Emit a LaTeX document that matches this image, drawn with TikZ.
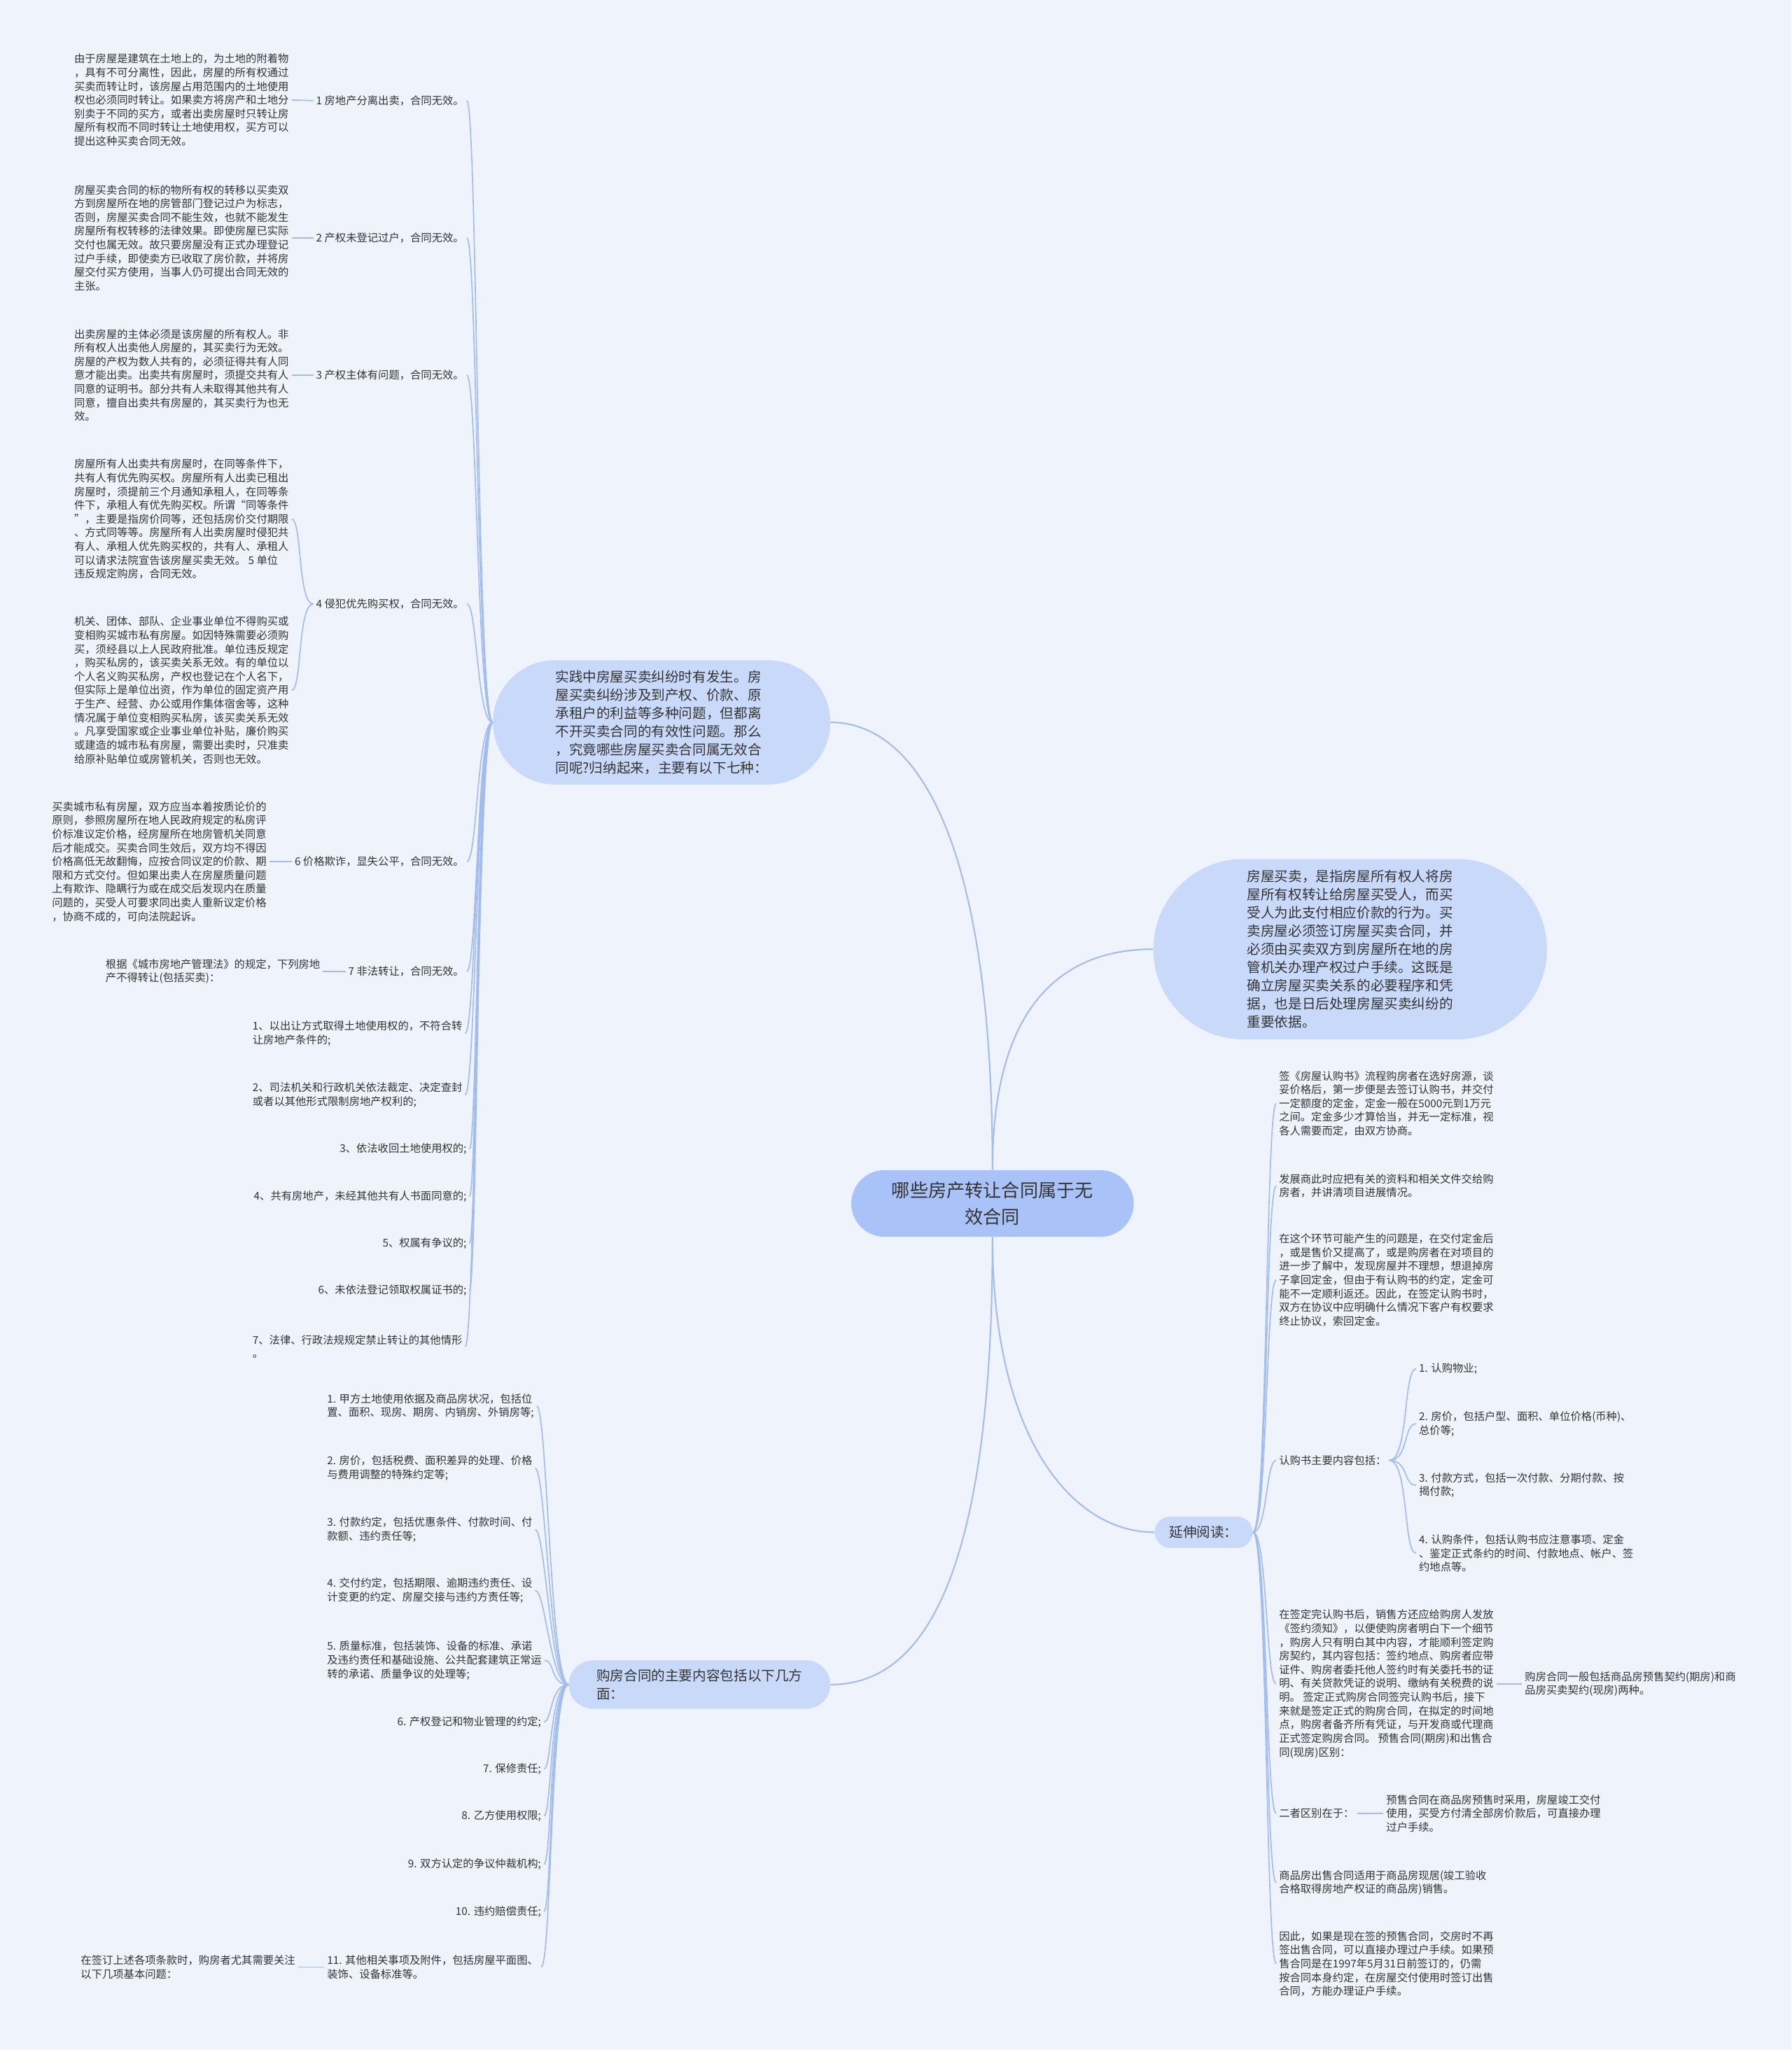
\documentclass[tikz,border=0pt]{standalone}
\usepackage{fontspec}
\setmainfont{Noto Sans CJK SC}
\usepackage{tikz}
\usetikzlibrary{shapes.misc}

\definecolor{bgblue}{HTML}{EEF3FC}
\definecolor{rootblue}{HTML}{A9C3F8}
\definecolor{branchblue}{HTML}{C9D9FA}
\definecolor{linkblue}{HTML}{A3BCEE}
\definecolor{inkgray}{HTML}{333333}

\begin{document}
\begin{tikzpicture}[x=1pt, y=-1pt,
    root/.style={rounded rectangle, fill=rootblue, text=inkgray, align=center,
        font=\fontsize{14pt}{20pt}\selectfont, minimum width=216pt, minimum height=51pt, inner sep=0pt},
    branch/.style={rounded rectangle, fill=branchblue, text=inkgray, align=left,
        font=\fontsize{10.5pt}{13.9pt}\selectfont, inner sep=0pt},
    leaf/.style={text=inkgray, align=left, font=\fontsize{8.2pt}{10.5pt}\selectfont, inner sep=2pt},
    trunk/.style={draw=linkblue, line width=1.1pt},
    link/.style={draw=linkblue, line width=0.9pt}]

    % Background and frame
    \fill[bgblue] (0,0) rectangle (1370,1568);
    \useasboundingbox (0,0) rectangle (1370,1568);

    % Root and main branches
    \node[root] (root) at (759,920.5) {哪些房产转让合同属于无\\效合同};
    \node[branch, minimum width=258pt, minimum height=95pt] (pracL) at (506,552.5) {实践中房屋买卖纠纷时有发生。房\\屋买卖纠纷涉及到产权、价款、原\\承租户的利益等多种问题，但都离\\不开买卖合同的有效性问题。那么\\，究竟哪些房屋买卖合同属无效合\\同呢?归纳起来，主要有以下七种：};
    \node[branch, minimum width=301pt, minimum height=138pt] (defR) at (1032.5,726) {房屋买卖，是指房屋所有权人将房\\屋所有权转让给房屋买受人，而买\\受人为此支付相应价款的行为。买\\卖房屋必须签订房屋买卖合同，并\\必须由买卖双方到房屋所在地的房\\管机关办理产权过户手续。这既是\\确立房屋买卖关系的必要程序和凭\\据，也是日后处理房屋买卖纠纷的\\重要依据。};
    \node[branch, minimum width=75pt, minimum height=24pt] (extR) at (920.5,1172) {延伸阅读：};
    \node[branch, minimum width=200pt, minimum height=37pt] (termL) at (535,1288.5) {购房合同的主要内容包括以下几方\\面：};

    \draw[trunk] (root.north) .. controls (759,640) and (700,552.5) .. (pracL.east);
    \draw[trunk] (root.north) .. controls (759,760) and (820,726) .. (defR.west);
    \draw[trunk] (root.south) .. controls (759,1100) and (820,1172) .. (extR.west);
    \draw[trunk] (root.south) .. controls (759,1220) and (700,1288.5) .. (termL.east);

    % Invalid contracts (left, top)
    \node[leaf, anchor=east] (inv1) at (357,77) {1 房地产分离出卖，合同无效。};
    \node[leaf, anchor=east] (inv2) at (357,182) {2 产权未登记过户，合同无效。};
    \node[leaf, anchor=east] (inv3) at (357,287) {3 产权主体有问题，合同无效。};
    \node[leaf, anchor=east] (inv4) at (357,462) {4 侵犯优先购买权，合同无效。};
    \node[leaf, anchor=east] (inv6) at (357,659) {6 价格欺诈，显失公平，合同无效。};
    \node[leaf, anchor=east] (inv7) at (357,743) {7 非法转让，合同无效。};
    \node[leaf, anchor=west] (forb1) at (191,790.5) {1、以出让方式取得土地使用权的，不符合转\\让房地产条件的;};
    \node[leaf, anchor=west] (forb2) at (191,837.5) {2、司法机关和行政机关依法裁定、决定查封\\或者以其他形式限制房地产权利的;};
    \node[leaf, anchor=east] (forb3) at (359,879) {3、依法收回土地使用权的;};
    \node[leaf, anchor=east] (forb4) at (359,915) {4、共有房地产，未经其他共有人书面同意的;};
    \node[leaf, anchor=east] (forb5) at (359,951) {5、权属有争议的;};
    \node[leaf, anchor=east] (forb6) at (359,987) {6、未依法登记领取权属证书的;};
    \node[leaf, anchor=west] (forb7) at (191,1030) {7、法律、行政法规规定禁止转让的其他情形\\。};

    \draw[link] (pracL.west) .. controls +(-12,0) and +(8,0) .. (inv1.east);
    \draw[link] (pracL.west) .. controls +(-12,0) and +(8,0) .. (inv2.east);
    \draw[link] (pracL.west) .. controls +(-12,0) and +(8,0) .. (inv3.east);
    \draw[link] (pracL.west) .. controls +(-12,0) and +(8,0) .. (inv4.east);
    \draw[link] (pracL.west) .. controls +(-12,0) and +(8,0) .. (inv6.east);
    \draw[link] (pracL.west) .. controls +(-12,0) and +(8,0) .. (inv7.east);
    \draw[link] (pracL.west) .. controls +(-12,0) and +(8,0) .. (forb1.east);
    \draw[link] (pracL.west) .. controls +(-12,0) and +(8,0) .. (forb2.east);
    \draw[link] (pracL.west) .. controls +(-12,0) and +(6,0) .. (forb3.east);
    \draw[link] (pracL.west) .. controls +(-12,0) and +(6,0) .. (forb4.east);
    \draw[link] (pracL.west) .. controls +(-12,0) and +(6,0) .. (forb5.east);
    \draw[link] (pracL.west) .. controls +(-12,0) and +(6,0) .. (forb6.east);
    \draw[link] (pracL.west) .. controls +(-12,0) and +(8,0) .. (forb7.east);

    % Explanations of the invalid contracts
    \node[leaf, anchor=east] (note1) at (223,76.5) {由于房屋是建筑在土地上的，为土地的附着物\\，具有不可分离性，因此，房屋的所有权通过\\买卖而转让时，该房屋占用范围内的土地使用\\权也必须同时转让。如果卖方将房产和土地分\\别卖于不同的买方，或者出卖房屋时只转让房\\屋所有权而不同时转让土地使用权，买方可以\\提出这种买卖合同无效。};
    \node[leaf, anchor=east] (note2) at (223,182) {房屋买卖合同的标的物所有权的转移以买卖双\\方到房屋所在地的房管部门登记过户为标志，\\否则，房屋买卖合同不能生效，也就不能发生\\房屋所有权转移的法律效果。即使房屋已实际\\交付也属无效。故只要房屋没有正式办理登记\\过户手续，即使卖方已收取了房价款，并将房\\屋交付买方使用，当事人仍可提出合同无效的\\主张。};
    \node[leaf, anchor=east] (note3) at (223,287) {出卖房屋的主体必须是该房屋的所有权人。非\\所有权人出卖他人房屋的，其买卖行为无效。\\房屋的产权为数人共有的，必须征得共有人同\\意才能出卖。出卖共有房屋时，须提交共有人\\同意的证明书。部分共有人未取得其他共有人\\同意，擅自出卖共有房屋的，其买卖行为也无\\效。};
    \node[leaf, anchor=east] (note4a) at (223,397) {房屋所有人出卖共有房屋时，在同等条件下，\\共有人有优先购买权。房屋所有人出卖已租出\\房屋时，须提前三个月通知承租人，在同等条\\件下，承租人有优先购买权。所谓“同等条件\\”，主要是指房价同等，还包括房价交付期限\\、方式同等等。房屋所有人出卖房屋时侵犯共\\有人、承租人优先购买权的，共有人、承租人\\可以请求法院宣告该房屋买卖无效。 5 单位\\违反规定购房，合同无效。};
    \node[leaf, anchor=east] (note4b) at (223,528) {机关、团体、部队、企业事业单位不得购买或\\变相购买城市私有房屋。如因特殊需要必须购\\买，须经县以上人民政府批准。单位违反规定\\，购买私房的，该买卖关系无效。有的单位以\\个人名义购买私房，产权也登记在个人名下，\\但实际上是单位出资，作为单位的固定资产用\\于生产、经营、办公或用作集体宿舍等，这种\\情况属于单位变相购买私房，该买卖关系无效\\。凡享受国家或企业事业单位补贴，廉价购买\\或建造的城市私有房屋，需要出卖时，只准卖\\给原补贴单位或房管机关，否则也无效。};
    \node[leaf, anchor=east] (note6) at (206,659) {买卖城市私有房屋，双方应当本着按质论价的\\原则，参照房屋所在地人民政府规定的私房评\\价标准议定价格，经房屋所在地房管机关同意\\后才能成交。买卖合同生效后，双方均不得因\\价格高低无故翻悔，应按合同议定的价款、期\\限和方式交付。但如果出卖人在房屋质量问题\\上有欺诈、隐瞒行为或在成交后发现内在质量\\问题的，买受人可要求同出卖人重新议定价格\\，协商不成的，可向法院起诉。};
    \node[leaf, anchor=east] (note7) at (247,743) {根据《城市房地产管理法》的规定，下列房地\\产不得转让(包括买卖)：};

    \draw[link] (note1.east) -- (inv1.west);
    \draw[link] (note2.east) -- (inv2.west);
    \draw[link] (note3.east) -- (inv3.west);
    \draw[link] (inv4.west) .. controls +(-12,0) and +(8,0) .. (note4a.east);
    \draw[link] (inv4.west) .. controls +(-12,0) and +(8,0) .. (note4b.east);
    \draw[link] (note6.east) -- (inv6.west);
    \draw[link] (note7.east) -- (inv7.west);

    % Contract terms (left, bottom)
    \node[leaf, anchor=west] (term1) at (248,1075.5) {1. 甲方土地使用依据及商品房状况，包括位\\置、面积、现房、期房、内销房、外销房等;};
    \node[leaf, anchor=west] (term2) at (248,1123) {2. 房价，包括税费、面积差异的处理、价格\\与费用调整的特殊约定等;};
    \node[leaf, anchor=west] (term3) at (248,1170) {3. 付款约定，包括优惠条件、付款时间、付\\款额、违约责任等;};
    \node[leaf, anchor=west] (term4) at (248,1216.5) {4. 交付约定，包括期限、逾期违约责任、设\\计变更的约定、房屋交接与违约方责任等;};
    \node[leaf, anchor=west] (term5) at (248,1270) {5. 质量标准，包括装饰、设备的标准、承诺\\及违约责任和基础设施、公共配套建筑正常运\\转的承诺、质量争议的处理等;};
    \node[leaf, anchor=east] (term6) at (416,1317) {6. 产权登记和物业管理的约定;};
    \node[leaf, anchor=east] (term7) at (416,1353) {7. 保修责任;};
    \node[leaf, anchor=east] (term8) at (416,1389) {8. 乙方使用权限;};
    \node[leaf, anchor=east] (term9) at (416,1426) {9. 双方认定的争议仲裁机构;};
    \node[leaf, anchor=east] (term10) at (416,1462) {10. 违约赔偿责任;};
    \node[leaf, anchor=west] (term11) at (248,1504.5) {11. 其他相关事项及附件，包括房屋平面图、\\装饰、设备标准等。};
    \node[leaf, anchor=east] (termnote) at (228,1504.5) {在签订上述各项条款时，购房者尤其需要关注\\以下几项基本问题：};

    \draw[link] (termL.west) .. controls +(-14,0) and +(8,0) .. (term1.east);
    \draw[link] (termL.west) .. controls +(-14,0) and +(8,0) .. (term2.east);
    \draw[link] (termL.west) .. controls +(-14,0) and +(8,0) .. (term3.east);
    \draw[link] (termL.west) .. controls +(-14,0) and +(8,0) .. (term4.east);
    \draw[link] (termL.west) .. controls +(-14,0) and +(8,0) .. (term5.east);
    \draw[link] (termL.west) .. controls +(-14,0) and +(6,0) .. (term6.east);
    \draw[link] (termL.west) .. controls +(-14,0) and +(6,0) .. (term7.east);
    \draw[link] (termL.west) .. controls +(-14,0) and +(6,0) .. (term8.east);
    \draw[link] (termL.west) .. controls +(-14,0) and +(6,0) .. (term9.east);
    \draw[link] (termL.west) .. controls +(-14,0) and +(6,0) .. (term10.east);
    \draw[link] (termL.west) .. controls +(-14,0) and +(8,0) .. (term11.east);
    \draw[link] (termnote.east) -- (term11.west);

    % Further reading (right)
    \node[leaf, anchor=west] (ext1) at (976,844) {签《房屋认购书》流程购房者在选好房源，谈\\妥价格后，第一步便是去签订认购书，并交付\\一定额度的定金，定金一般在5000元到1万元\\之间。定金多少才算恰当，并无一定标准，视\\各人需要而定，由双方协商。};
    \node[leaf, anchor=west] (ext2) at (976,907) {发展商此时应把有关的资料和相关文件交给购\\房者，并讲清项目进展情况。};
    \node[leaf, anchor=west] (ext3) at (976,979) {在这个环节可能产生的问题是，在交付定金后\\，或是售价又提高了，或是购房者在对项目的\\进一步了解中，发现房屋并不理想，想退掉房\\子拿回定金，但由于有认购书的约定，定金可\\能不一定顺利返还。因此，在签定认购书时，\\双方在协议中应明确什么情况下客户有权要求\\终止协议，索回定金。};
    \node[leaf, anchor=west] (ext4) at (976,1117) {认购书主要内容包括：};
    \node[leaf, anchor=west] (ext5) at (976,1288) {在签定完认购书后，销售方还应给购房人发放\\《签约须知》，以便使购房者明白下一个细节\\，购房人只有明白其中内容，才能顺利签定购\\房契约，其内容包括：签约地点、购房者应带\\证件、购房者委托他人签约时有关委托书的证\\明、有关贷款凭证的说明、缴纳有关税费的说\\明。 签定正式购房合同签完认购书后，接下\\来就是签定正式的购房合同，在拟定的时间地\\点，购房者备齐所有凭证，与开发商或代理商\\正式签定购房合同。 预售合同(期房)和出售合\\同(现房)区别：};
    \node[leaf, anchor=west] (ext6) at (976,1387) {二者区别在于：};
    \node[leaf, anchor=west] (ext7) at (976,1440) {商品房出售合同适用于商品房现居(竣工验收\\合格取得房地产权证的商品房)销售。};
    \node[leaf, anchor=west] (ext8) at (976,1502) {因此，如果是现在签的预售合同，交房时不再\\签出售合同，可以直接办理过户手续。如果预\\售合同是在1997年5月31日前签订的，仍需\\按合同本身约定，在房屋交付使用时签订出售\\合同，方能办理证户手续。};

    \draw[link] (extR.east) .. controls +(11,0) and +(-8,0) .. (ext1.west);
    \draw[link] (extR.east) .. controls +(11,0) and +(-8,0) .. (ext2.west);
    \draw[link] (extR.east) .. controls +(11,0) and +(-8,0) .. (ext3.west);
    \draw[link] (extR.east) .. controls +(11,0) and +(-8,0) .. (ext4.west);
    \draw[link] (extR.east) .. controls +(11,0) and +(-8,0) .. (ext5.west);
    \draw[link] (extR.east) .. controls +(11,0) and +(-8,0) .. (ext6.west);
    \draw[link] (extR.east) .. controls +(11,0) and +(-8,0) .. (ext7.west);
    \draw[link] (extR.east) .. controls +(11,0) and +(-8,0) .. (ext8.west);

    % Subscription contents and follow-ups
    \node[leaf, anchor=west] (sub1) at (1083,1047) {1. 认购物业;};
    \node[leaf, anchor=west] (sub2) at (1083,1089) {2. 房价，包括户型、面积、单位价格(币种)、\\总价等;};
    \node[leaf, anchor=west] (sub3) at (1083,1136) {3. 付款方式，包括一次付款、分期付款、按\\揭付款;};
    \node[leaf, anchor=west] (sub4) at (1083,1188) {4. 认购条件，包括认购书应注意事项、定金\\、鉴定正式条约的时间、付款地点、帐户、签\\约地点等。};
    \node[leaf, anchor=west] (extA) at (1164,1288) {购房合同一般包括商品房预售契约(期房)和商\\品房买卖契约(现房)两种。};
    \node[leaf, anchor=west] (extB) at (1058,1387) {预售合同在商品房预售时采用，房屋竣工交付\\使用，买受方付清全部房价款后，可直接办理\\过户手续。};

    \draw[link] (ext4.east) .. controls +(15,0) and +(-10,0) .. (sub1.west);
    \draw[link] (ext4.east) .. controls +(15,0) and +(-10,0) .. (sub2.west);
    \draw[link] (ext4.east) .. controls +(15,0) and +(-10,0) .. (sub3.west);
    \draw[link] (ext4.east) .. controls +(15,0) and +(-10,0) .. (sub4.west);
    \draw[link] (ext5.east) -- (extA.west);
    \draw[link] (ext6.east) -- (extB.west);
\end{tikzpicture}
\end{document}
